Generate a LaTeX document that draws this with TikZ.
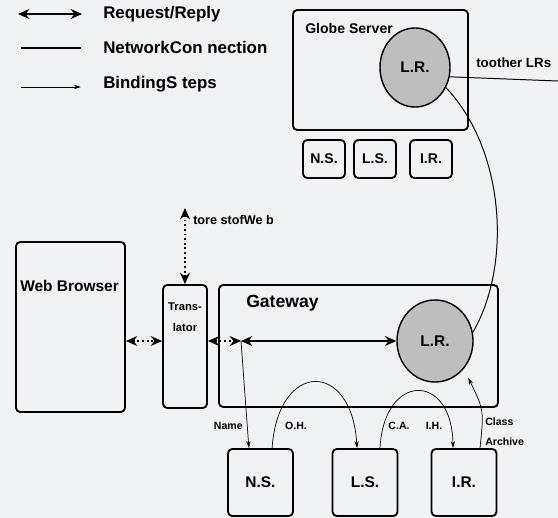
\documentclass[tikz,border=0pt]{standalone}
\usepackage{fontspec}
\setmainfont{Liberation Sans}
\usetikzlibrary{arrows.meta,shapes.geometric}
\definecolor{paper}{RGB}{240,242,243}
\definecolor{lrgray}{RGB}{190,190,190}
\begin{document}
\begin{tikzpicture}[x=0.025cm,y=-0.025cm,line join=bevel]
  \tikzstyle{box}=[draw,line width=1.3pt,rounded corners=3pt,inner sep=0pt]
  \tikzstyle{lr}=[ellipse,draw,line width=1pt,fill=lrgray,inner sep=0pt,font=\bfseries\fontsize{11}{13}\selectfont]
  \tikzstyle{txt}=[inner sep=0pt,font=\bfseries\fontsize{12}{14}\selectfont]
  \tikzstyle{small}=[inner sep=0pt,font=\bfseries\fontsize{7.5}{9}\selectfont]
  \tikzstyle{req}=[line width=1.3pt,{Stealth[length=8pt,width=7pt]}-{Stealth[length=8pt,width=7pt]}]
  \tikzstyle{net}=[line width=0.7pt]
  \tikzstyle{bind}=[line width=0.5pt,-{Stealth[length=5pt,width=3pt]}]
  \fill[paper] (0,0) rectangle (558,518);
  \useasboundingbox (0,0) rectangle (558,518);
  % legend
  \coordinate (L_1a) at (18,14);  \coordinate (L_1b) at (82,14);
  \coordinate (L_2a) at (21,48);  \coordinate (L_2b) at (81,48);
  \coordinate (L_3a) at (21,87);  \coordinate (L_3b) at (81,87);
  \draw[req] (L_1a) -- (L_1b);
  \draw[line width=1.3pt] (L_2a) -- (L_2b);
  \draw[bind] (L_3a) -- (L_3b);
  \node[txt,anchor=west] (K_1) at (103,14) {Request/Reply};
  \node[txt,anchor=west] (K_2) at (103,47) {NetworkCon nection};
  \node[txt,anchor=west] (K_3) at (103,84) {BindingS teps};
  % globe server
  \node[box,minimum width=4.375cm,minimum height=3cm] (GS) at (380.5,70) {};
  \node[inner sep=0pt,anchor=west,font=\bfseries\fontsize{10}{12}\selectfont] (GS_t) at (305,28) {Globe Server};
  \node[lr,minimum width=1.75cm,minimum height=1.975cm] (LR_g) at (415,67.5) {L.R.};
  \node[box,minimum width=1.05cm,minimum height=0.95cm,font=\bfseries\fontsize{10}{12}\selectfont] (NS_s) at (324,159) {N.S.};
  \node[box,minimum width=1.05cm,minimum height=0.95cm,font=\bfseries\fontsize{10}{12}\selectfont] (LS_s) at (375,159) {L.S.};
  \node[box,minimum width=1.05cm,minimum height=0.95cm,font=\bfseries\fontsize{10}{12}\selectfont] (IR_s) at (431,159) {I.R.};
  \coordinate (O_LR) at (558,81);
  \node[inner sep=0pt,anchor=west,font=\bfseries\fontsize{9.5}{11}\selectfont] (O_t) at (476,63) {toother LRs};
  \draw[net] (LR_g.-15) -- (O_LR);
  % browser, translator, gateway
  \node[box,minimum width=2.725cm,minimum height=4.25cm] (WB) at (70.5,327) {};
  \node[inner sep=0pt,anchor=west,font=\bfseries\fontsize{11}{13}\selectfont] (WB_t) at (20,286) {Web Browser};
  \node[box,minimum width=1.1cm,minimum height=3.075cm] (TR) at (185,346.5) {};
  \node[inner sep=0pt,align=center,font=\bfseries\fontsize{8}{15}\selectfont] (TR_t) at (185,317) {Trans-\\lator};
  \node[box,minimum width=6.975cm,minimum height=3.05cm] (GW) at (358.5,346) {};
  \node[inner sep=0pt,anchor=west,font=\bfseries\fontsize{12.5}{15}\selectfont] (GW_t) at (246,303) {Gateway};
  \node[lr,minimum width=1.9cm,minimum height=2.05cm] (LR_w) at (435,341) {L.R.};
  % store of web
  \coordinate (ST) at (185,208);
  \node[inner sep=0pt,anchor=west,font=\bfseries\fontsize{9}{11}\selectfont] (ST_t) at (193,220) {tore stofWe b};
  \draw[req,dotted] (TR.north) -- (ST);
  % requests
  \coordinate (NM) at (241,341);
  \draw[req,dotted] (WB.east |- LR_w) -- (TR.west |- LR_w);
  \draw[req,dotted] (TR.east |- LR_w) -- (NM);
  \draw[req] (NM) -- (LR_w.west);
  % bottom servers
  \node[box,minimum width=1.625cm,minimum height=1.675cm,font=\bfseries\fontsize{11}{13}\selectfont] (NS_b) at (260.5,482.5) {N.S.};
  \node[box,minimum width=1.625cm,minimum height=1.675cm,font=\bfseries\fontsize{11}{13}\selectfont] (LS_b) at (365,482.5) {L.S.};
  \node[box,minimum width=1.625cm,minimum height=1.675cm,font=\bfseries\fontsize{11}{13}\selectfont] (IR_b) at (464,482.5) {I.R.};
  % binding steps
  \draw[bind] (NM) -- ([xshift=-0.29cm]NS_b.north);
  \draw[bind] ([xshift=0.29cm]NS_b.north) .. controls (278,360) and (352,360) .. ([xshift=-0.2cm]LS_b.north);
  \draw[bind] ([xshift=0.375cm]LS_b.north) .. controls (384,372) and (452,372) .. ([xshift=-0.275cm]IR_b.north);
  \draw[bind,shorten >=7pt] ([xshift=0.4cm]IR_b.north) .. controls (484,410) .. (LR_w.-44);
  \draw[net] (LR_g.-33) .. controls (505,150) and (512,265) .. (LR_w.13);
  \node[small,anchor=east] (B_1) at (243,426) {Name};
  \node[small] (B_2) at (296,426) {O.H.};
  \node[small] (B_3) at (399,426) {C.A.};
  \node[small] (B_4) at (434,426) {I.H.};
  \node[small,anchor=west] (B_5) at (485,422) {Class};
  \node[small,anchor=west] (B_6) at (485,442) {Archive};
\end{tikzpicture}
\end{document}
